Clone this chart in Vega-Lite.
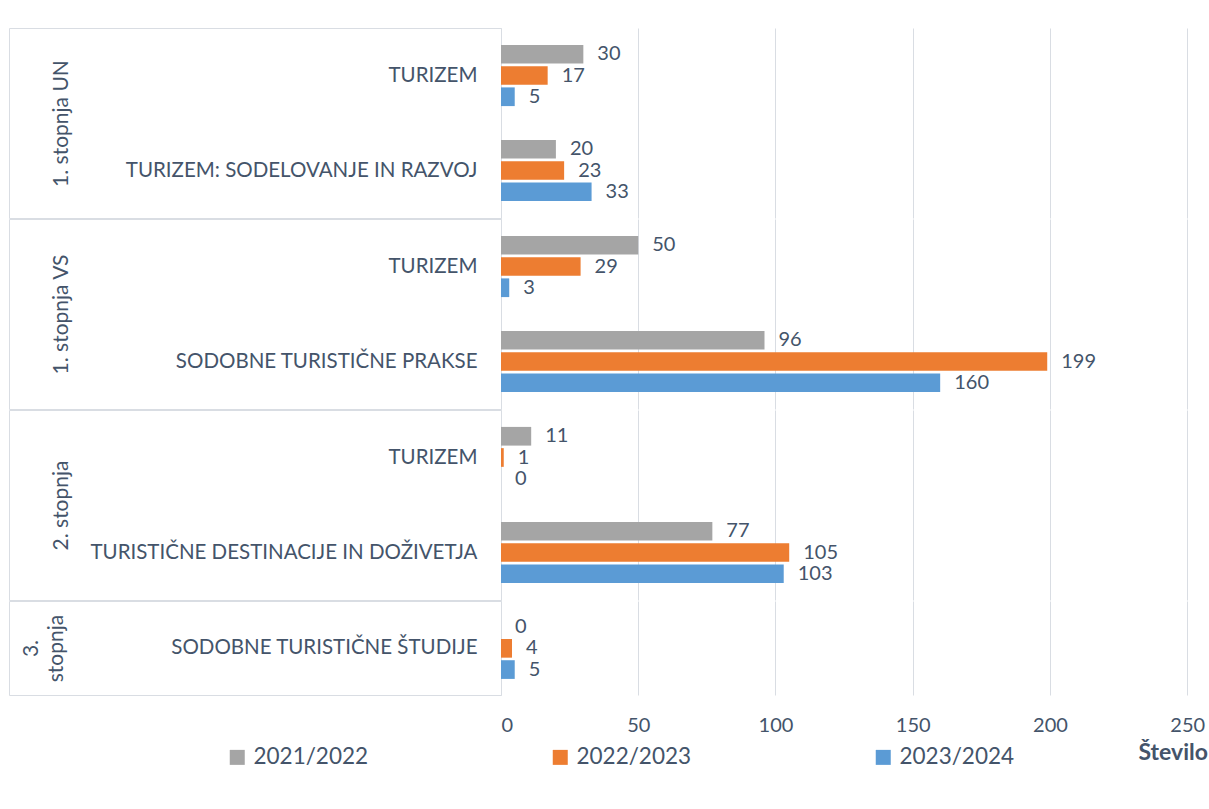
{
  "$schema": "https://vega.github.io/schema/vega-lite/v6.json",
  "padding": {"left": 8, "top": 27, "right": 0, "bottom": 0},
  "autosize": {"type": "pad"},
  "spacing": -4,
  "data": {
    "values": [
      {"stopnja": "1. stopnja UN", "program": "TURIZEM", "leto": "2021/2022", "value": 30},
      {"stopnja": "1. stopnja UN", "program": "TURIZEM", "leto": "2022/2023", "value": 17},
      {"stopnja": "1. stopnja UN", "program": "TURIZEM", "leto": "2023/2024", "value": 5},
      {"stopnja": "1. stopnja UN", "program": "TURIZEM: SODELOVANJE IN RAZVOJ", "leto": "2021/2022", "value": 20},
      {"stopnja": "1. stopnja UN", "program": "TURIZEM: SODELOVANJE IN RAZVOJ", "leto": "2022/2023", "value": 23},
      {"stopnja": "1. stopnja UN", "program": "TURIZEM: SODELOVANJE IN RAZVOJ", "leto": "2023/2024", "value": 33},
      {"stopnja": "1. stopnja VS", "program": "TURIZEM", "leto": "2021/2022", "value": 50},
      {"stopnja": "1. stopnja VS", "program": "TURIZEM", "leto": "2022/2023", "value": 29},
      {"stopnja": "1. stopnja VS", "program": "TURIZEM", "leto": "2023/2024", "value": 3},
      {"stopnja": "1. stopnja VS", "program": "SODOBNE TURISTIČNE PRAKSE", "leto": "2021/2022", "value": 96},
      {"stopnja": "1. stopnja VS", "program": "SODOBNE TURISTIČNE PRAKSE", "leto": "2022/2023", "value": 199},
      {"stopnja": "1. stopnja VS", "program": "SODOBNE TURISTIČNE PRAKSE", "leto": "2023/2024", "value": 160},
      {"stopnja": "2. stopnja", "program": "TURIZEM", "leto": "2021/2022", "value": 11},
      {"stopnja": "2. stopnja", "program": "TURIZEM", "leto": "2022/2023", "value": 1},
      {"stopnja": "2. stopnja", "program": "TURIZEM", "leto": "2023/2024", "value": 0},
      {"stopnja": "2. stopnja", "program": "TURISTIČNE DESTINACIJE IN DOŽIVETJA", "leto": "2021/2022", "value": 77},
      {"stopnja": "2. stopnja", "program": "TURISTIČNE DESTINACIJE IN DOŽIVETJA", "leto": "2022/2023", "value": 105},
      {"stopnja": "2. stopnja", "program": "TURISTIČNE DESTINACIJE IN DOŽIVETJA", "leto": "2023/2024", "value": 103},
      {"stopnja": "3. stopnja", "program": "SODOBNE TURISTIČNE ŠTUDIJE", "leto": "2021/2022", "value": 0},
      {"stopnja": "3. stopnja", "program": "SODOBNE TURISTIČNE ŠTUDIJE", "leto": "2022/2023", "value": 4},
      {"stopnja": "3. stopnja", "program": "SODOBNE TURISTIČNE ŠTUDIJE", "leto": "2023/2024", "value": 5}
    ]
  },
  "resolve": {"scale": {"x": "independent", "y": "independent", "color": "shared"}, "legend": {"color": "shared"}},
  "vconcat": [
    {
      "spacing": 0,
      "bounds": "flush",
      "resolve": {"scale": {"x": "independent", "y": "independent", "color": "shared"}},
      "hconcat": [
        {"width": 492, "height": 190, "view": {"stroke": "#D9DDE3"}, "transform": [{"filter": "datum.stopnja == '1. stopnja UN'"}], "mark": {"type": "point", "opacity": 0}},
        {
          "width": 709, "height": 190,
          "transform": [{"filter": "datum.stopnja == '1. stopnja UN'"}],
          "encoding": {
            "y": {"field": "program", "type": "nominal", "sort": null, "scale": {"paddingInner": 0.356, "paddingOuter": 0.178},
              "axis": {"title": "1. stopnja UN", "titleAngle": -90, "titleX": -440, "titleY": 95, "titleAlign": "center", "titleBaseline": "middle", "titleFont": "Lato", "titleFontSize": 21, "titleFontWeight": "normal", "titleColor": "#44546A", "domain": false, "ticks": false, "labelPadding": 24, "labelFont": "Lato", "labelFontSize": 20.5, "labelColor": "#44546A", "labelLimit": 0}},
            "yOffset": {"field": "leto", "type": "nominal", "sort": ["2021/2022", "2022/2023", "2023/2024"], "scale": {"paddingInner": 0.12, "paddingOuter": 0}},
            "x": {"field": "value", "type": "quantitative", "scale": {"domain": [0, 258.3], "nice": false},
              "axis": {"values": [0, 50, 100, 150, 200, 250], "grid": true, "gridColor": "#D9DDE3", "domain": false, "ticks": false, "labels": false, "title": null}}
          },
          "layer": [
            {"mark": {"type": "bar"}, "encoding": {"color": {"field": "leto", "type": "nominal", "scale": {"domain": ["2021/2022", "2022/2023", "2023/2024"], "range": ["#A5A5A5", "#ED7D31", "#5B9BD5"]},
              "legend": {"title": null, "orient": "none", "direction": "horizontal", "legendX": 217, "legendY": 718, "symbolType": "square", "symbolSize": 225, "symbolStrokeWidth": 0, "labelFont": "Lato", "labelFontSize": 22.5, "labelColor": "#44546A", "labelOffset": 5, "columnPadding": 180}}}},
            {"mark": {"type": "text", "align": "left", "baseline": "middle", "dx": 14, "font": "Lato", "fontSize": 20, "color": "#44546A"}, "encoding": {"text": {"field": "value", "type": "quantitative"}}}
          ]
        }
      ]
    },
    {
      "spacing": 0,
      "bounds": "flush",
      "resolve": {"scale": {"x": "independent", "y": "independent", "color": "shared"}},
      "hconcat": [
        {"width": 492, "height": 190, "view": {"stroke": "#D9DDE3"}, "transform": [{"filter": "datum.stopnja == '1. stopnja VS'"}], "mark": {"type": "point", "opacity": 0}},
        {
          "width": 709, "height": 190,
          "transform": [{"filter": "datum.stopnja == '1. stopnja VS'"}],
          "encoding": {
            "y": {"field": "program", "type": "nominal", "sort": null, "scale": {"paddingInner": 0.356, "paddingOuter": 0.178},
              "axis": {"title": "1. stopnja VS", "titleAngle": -90, "titleX": -440, "titleY": 95, "titleAlign": "center", "titleBaseline": "middle", "titleFont": "Lato", "titleFontSize": 21, "titleFontWeight": "normal", "titleColor": "#44546A", "domain": false, "ticks": false, "labelPadding": 24, "labelFont": "Lato", "labelFontSize": 20.5, "labelColor": "#44546A", "labelLimit": 0}},
            "yOffset": {"field": "leto", "type": "nominal", "sort": ["2021/2022", "2022/2023", "2023/2024"], "scale": {"paddingInner": 0.12, "paddingOuter": 0}},
            "x": {"field": "value", "type": "quantitative", "scale": {"domain": [0, 258.3], "nice": false},
              "axis": {"values": [0, 50, 100, 150, 200, 250], "grid": true, "gridColor": "#D9DDE3", "domain": false, "ticks": false, "labels": false, "title": null}}
          },
          "layer": [
            {"mark": {"type": "bar"}, "encoding": {"color": {"field": "leto", "type": "nominal", "scale": {"domain": ["2021/2022", "2022/2023", "2023/2024"], "range": ["#A5A5A5", "#ED7D31", "#5B9BD5"]},
              "legend": {"title": null, "orient": "none", "direction": "horizontal", "legendX": 217, "legendY": 718, "symbolType": "square", "symbolSize": 225, "symbolStrokeWidth": 0, "labelFont": "Lato", "labelFontSize": 22.5, "labelColor": "#44546A", "labelOffset": 5, "columnPadding": 180}}}},
            {"mark": {"type": "text", "align": "left", "baseline": "middle", "dx": 14, "font": "Lato", "fontSize": 20, "color": "#44546A"}, "encoding": {"text": {"field": "value", "type": "quantitative"}}}
          ]
        }
      ]
    },
    {
      "spacing": 0,
      "bounds": "flush",
      "resolve": {"scale": {"x": "independent", "y": "independent", "color": "shared"}},
      "hconcat": [
        {"width": 492, "height": 190, "view": {"stroke": "#D9DDE3"}, "transform": [{"filter": "datum.stopnja == '2. stopnja'"}], "mark": {"type": "point", "opacity": 0}},
        {
          "width": 709, "height": 190,
          "transform": [{"filter": "datum.stopnja == '2. stopnja'"}],
          "encoding": {
            "y": {"field": "program", "type": "nominal", "sort": null, "scale": {"paddingInner": 0.356, "paddingOuter": 0.178},
              "axis": {"title": "2. stopnja", "titleAngle": -90, "titleX": -440, "titleY": 95, "titleAlign": "center", "titleBaseline": "middle", "titleFont": "Lato", "titleFontSize": 21, "titleFontWeight": "normal", "titleColor": "#44546A", "domain": false, "ticks": false, "labelPadding": 24, "labelFont": "Lato", "labelFontSize": 20.5, "labelColor": "#44546A", "labelLimit": 0}},
            "yOffset": {"field": "leto", "type": "nominal", "sort": ["2021/2022", "2022/2023", "2023/2024"], "scale": {"paddingInner": 0.12, "paddingOuter": 0}},
            "x": {"field": "value", "type": "quantitative", "scale": {"domain": [0, 258.3], "nice": false},
              "axis": {"values": [0, 50, 100, 150, 200, 250], "grid": true, "gridColor": "#D9DDE3", "domain": false, "ticks": false, "labels": false, "title": null}}
          },
          "layer": [
            {"mark": {"type": "bar"}, "encoding": {"color": {"field": "leto", "type": "nominal", "scale": {"domain": ["2021/2022", "2022/2023", "2023/2024"], "range": ["#A5A5A5", "#ED7D31", "#5B9BD5"]},
              "legend": {"title": null, "orient": "none", "direction": "horizontal", "legendX": 217, "legendY": 718, "symbolType": "square", "symbolSize": 225, "symbolStrokeWidth": 0, "labelFont": "Lato", "labelFontSize": 22.5, "labelColor": "#44546A", "labelOffset": 5, "columnPadding": 180}}}},
            {"mark": {"type": "text", "align": "left", "baseline": "middle", "dx": 14, "font": "Lato", "fontSize": 20, "color": "#44546A"}, "encoding": {"text": {"field": "value", "type": "quantitative"}}}
          ]
        }
      ]
    },
    {
      "spacing": 0,
      "bounds": "flush",
      "resolve": {"scale": {"x": "independent", "y": "independent", "color": "shared"}},
      "hconcat": [
        {"width": 492, "height": 94, "view": {"stroke": "#D9DDE3"}, "transform": [{"filter": "datum.stopnja == '3. stopnja'"}], "mark": {"type": "point", "opacity": 0}},
        {
          "width": 709, "height": 94,
          "transform": [{"filter": "datum.stopnja == '3. stopnja'"}],
          "encoding": {
            "y": {"field": "program", "type": "nominal", "sort": null, "scale": {"paddingInner": 0.356, "paddingOuter": 0.178},
              "axis": {"title": ["3.", "stopnja"], "titleAngle": -90, "titleX": -470, "titleY": 47, "titleAlign": "center", "titleBaseline": "middle", "titleLineHeight": 25, "titleFont": "Lato", "titleFontSize": 21, "titleFontWeight": "normal", "titleColor": "#44546A", "domain": false, "ticks": false, "labelPadding": 24, "labelFont": "Lato", "labelFontSize": 20.5, "labelColor": "#44546A", "labelLimit": 0}},
            "yOffset": {"field": "leto", "type": "nominal", "sort": ["2021/2022", "2022/2023", "2023/2024"], "scale": {"paddingInner": 0.12, "paddingOuter": 0}},
            "x": {"field": "value", "type": "quantitative", "scale": {"domain": [0, 258.3], "nice": false},
              "axis": {"values": [0, 50, 100, 150, 200, 250], "grid": true, "gridColor": "#D9DDE3", "domain": false, "ticks": false, "labelPadding": 20, "labelFont": "Lato", "labelFontSize": 20, "labelColor": "#44546A",
                "title": "Število", "titleFont": "Lato", "titleFontSize": 23, "titleFontWeight": "bold", "titleColor": "#44546A", "titleAnchor": "start", "titleAlign": "left", "titleBaseline": "middle", "titleX": 637, "titleY": 57}}
          },
          "layer": [
            {"mark": {"type": "bar"}, "encoding": {"color": {"field": "leto", "type": "nominal", "scale": {"domain": ["2021/2022", "2022/2023", "2023/2024"], "range": ["#A5A5A5", "#ED7D31", "#5B9BD5"]},
              "legend": {"title": null, "orient": "none", "direction": "horizontal", "legendX": 217, "legendY": 718, "symbolType": "square", "symbolSize": 225, "symbolStrokeWidth": 0, "labelFont": "Lato", "labelFontSize": 22.5, "labelColor": "#44546A", "labelOffset": 5, "columnPadding": 180}}}},
            {"mark": {"type": "text", "align": "left", "baseline": "middle", "dx": 14, "font": "Lato", "fontSize": 20, "color": "#44546A"}, "encoding": {"text": {"field": "value", "type": "quantitative"}}}
          ]
        }
      ]
    }
  ],
  "config": {"view": {"stroke": null}, "font": "Lato"}
}
